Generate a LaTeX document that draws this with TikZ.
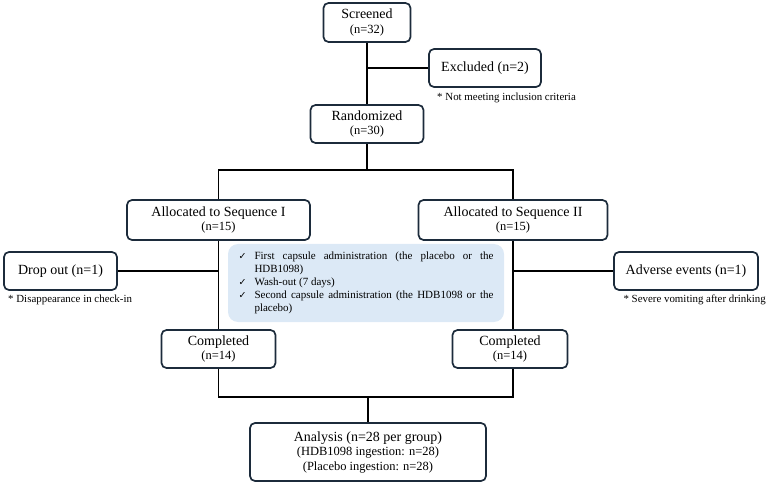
\documentclass[tikz,border=0pt]{standalone}
\usepackage{fontspec}
\setmainfont{Liberation Serif}
\newfontfamily\symfont{DejaVu Sans}
\definecolor{boxline}{HTML}{1C2B3B}
\definecolor{bluefill}{HTML}{DCE9F6}
\newcommand{\chk}{\makebox[16pt][l]{{\symfont\fontsize{9.5}{10}\selectfont ✓}}}
\begin{document}
\begin{tikzpicture}[x=1pt,y=-1pt,
  flowbox/.style={draw=boxline, line width=1.7pt, rounded corners=5pt, fill=white,
    align=center, inner sep=0pt, font=\fontsize{14}{15.5}\selectfont},
  note/.style={inner sep=0pt, font=\fontsize{10.9}{12}\selectfont},
  conn/.style={line width=1.3pt, black}]
\useasboundingbox (0,0) rectangle (768,486);

\node[flowbox, minimum width=87pt, minimum height=39pt] (scr) at (367,22.5)
  {Screened\\[-1pt]{\fontsize{12.5}{14}\selectfont (n=32)}};
\node[flowbox, minimum width=112pt, minimum height=38pt] (exc) at (485,68) {Excluded (n=2)};
\node[note, anchor=west] (excn) at (437,98) {* Not meeting inclusion criteria};
\node[flowbox, minimum width=113pt, minimum height=38pt] (rand) at (367,124)
  {Randomized\\[-1pt]{\fontsize{12.5}{14}\selectfont (n=30)}};

\node[flowbox, minimum width=183pt, minimum height=40pt] (seq1) at (218.5,220)
  {Allocated to Sequence I\\[-2pt]{\fontsize{12.5}{14}\selectfont (n=15)}};
\node[flowbox, minimum width=189pt, minimum height=40pt] (seq2) at (513,220)
  {Allocated to Sequence II\\[-2pt]{\fontsize{12.5}{14}\selectfont (n=15)}};

\node[fill=bluefill, rounded corners=10pt, text width=255pt, inner xsep=10.5pt,
  minimum height=78pt, font=\fontsize{11}{13}\selectfont, align=justify] (proc) at (366,283)
  {\hangindent=16pt\hangafter=1\noindent\chk First capsule administration (the placebo or the HDB1098)\par
   \hangindent=16pt\hangafter=1\noindent\chk Wash-out (7 days)\par
   \hangindent=16pt\hangafter=1\noindent\chk Second capsule administration (the HDB1098 or the placebo)\par};

\node[flowbox, minimum width=113pt, minimum height=38pt] (drop) at (60.5,271) {Drop out (n=1)};
\node[note, anchor=west] (dropn) at (8,300) {* Disappearance in check-in};
\node[flowbox, minimum width=144pt, minimum height=38pt] (adv) at (686,271) {Adverse events (n=1)};
\node[note, anchor=east] (advn) at (766,300) {* Severe vomiting after drinking};

\node[flowbox, minimum width=114pt, minimum height=38pt] (comp1) at (218.5,349)
  {Completed\\[-1pt]{\fontsize{12.5}{14}\selectfont (n=14)}};
\node[flowbox, minimum width=115pt, minimum height=38pt] (comp2) at (510,349)
  {Completed\\[-1pt]{\fontsize{12.5}{14}\selectfont (n=14)}};

\node[flowbox, minimum width=236pt, minimum height=58pt] (ana) at (368,452)
  {Analysis (n=28 per group)\\[-1pt]{\fontsize{12.5}{14.5}\selectfont (HDB1098 ingestion: n=28)}\\[-1pt]{\fontsize{12.5}{14.5}\selectfont (Placebo ingestion: n=28)}};

\coordinate (split) at (367,170);
\coordinate (merge) at (368,397);

\draw[conn] (scr.south) -- (rand.north);
\draw[conn] (exc.west) -- (exc.west -| scr.south);
\draw[conn] (rand.south) -- (split);
\draw[conn] (seq1.north) |- (split) -| (seq2.north);
\draw[conn] (seq1.south) -- (comp1.north);
\draw[conn] (seq2.south) -- (seq2.south |- comp2.north);
\draw[conn] (drop.east) -- (drop.east -| seq1.south);
\draw[conn] (adv.west) -- (adv.west -| seq2.south);
\draw[conn] (comp1.south) |- (merge);
\draw[conn] (seq2.south |- comp2.south) |- (merge);
\draw[conn] (merge) -- (ana.north);
\end{tikzpicture}
\end{document}
